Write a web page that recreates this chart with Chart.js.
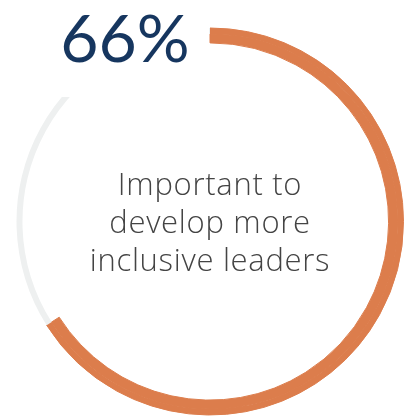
<!DOCTYPE html>
<html>
<head>
<meta charset="utf-8">
<script src="https://cdn.jsdelivr.net/npm/chart.js@4/dist/chart.umd.min.js"></script>
<style>
  html, body { margin: 0; padding: 0; background: #fff; }
  #ring { display: block; }
</style>
</head>
<body>
<canvas id="ring" width="404" height="417"></canvas>
<script>
// share of respondents
const labels = ["Important to develop more inclusive leaders", "Other"];
const values = [66, 34];
const captionLines = ["Important to", "develop more", "inclusive leaders"];

const orange = "#dc7d4c";
const grey = "#eef0f0";
const navy = "#16365f";

// big percentage in the top-left, with a white box cut out of the ring behind it
const labelPlugin = {
    id: "labels",
    afterDraw(chart) {
        const ctx = chart.ctx;
        const arc = chart.getDatasetMeta(0).data[0];
        const cx = arc.x;

        ctx.save();
        ctx.fillStyle = "#fff";
        ctx.fillRect(55, 0, cx - 56, 97);

        ctx.fillStyle = navy;
        ctx.font = "400 66px Lato";
        ctx.textAlign = "center";
        ctx.textBaseline = "alphabetic";
        ctx.fillText(values[0] + "%", 125, 62);

        ctx.fillStyle = "#444";
        ctx.font = "300 31px 'Open Sans'";
        ctx.letterSpacing = "0.7px";
        captionLines.forEach(function(line, i) {
            ctx.fillText(line, cx, 195 + i * 38);
        });
        ctx.restore();
    }
};

const ctx = document.getElementById("ring").getContext("2d");
new Chart(ctx, {
    type: "doughnut",
    data: {
        labels: labels,
        datasets: [{
            // thin outer band: orange share plus the grey remainder
            data: values,
            backgroundColor: [orange, grey],
            borderColor: [orange, grey],
            borderWidth: [1, 0],
            weight: 6
        }, {
            // inner band carries only the orange share
            data: values,
            backgroundColor: [orange, "rgba(0,0,0,0)"],
            borderColor: [orange, "rgba(0,0,0,0)"],
            borderWidth: [1, 0],
            weight: 9
        }]
    },
    options: {
        responsive: false,
        animation: false,
        cutout: "92.3%",
        rotation: 0,
        layout: { padding: { left: 16, right: 0, top: 26, bottom: 0 } },
        plugins: {
            legend: { display: false },
            tooltip: { enabled: false }
        }
    },
    plugins: [labelPlugin]
});
</script>
</body>
</html>
